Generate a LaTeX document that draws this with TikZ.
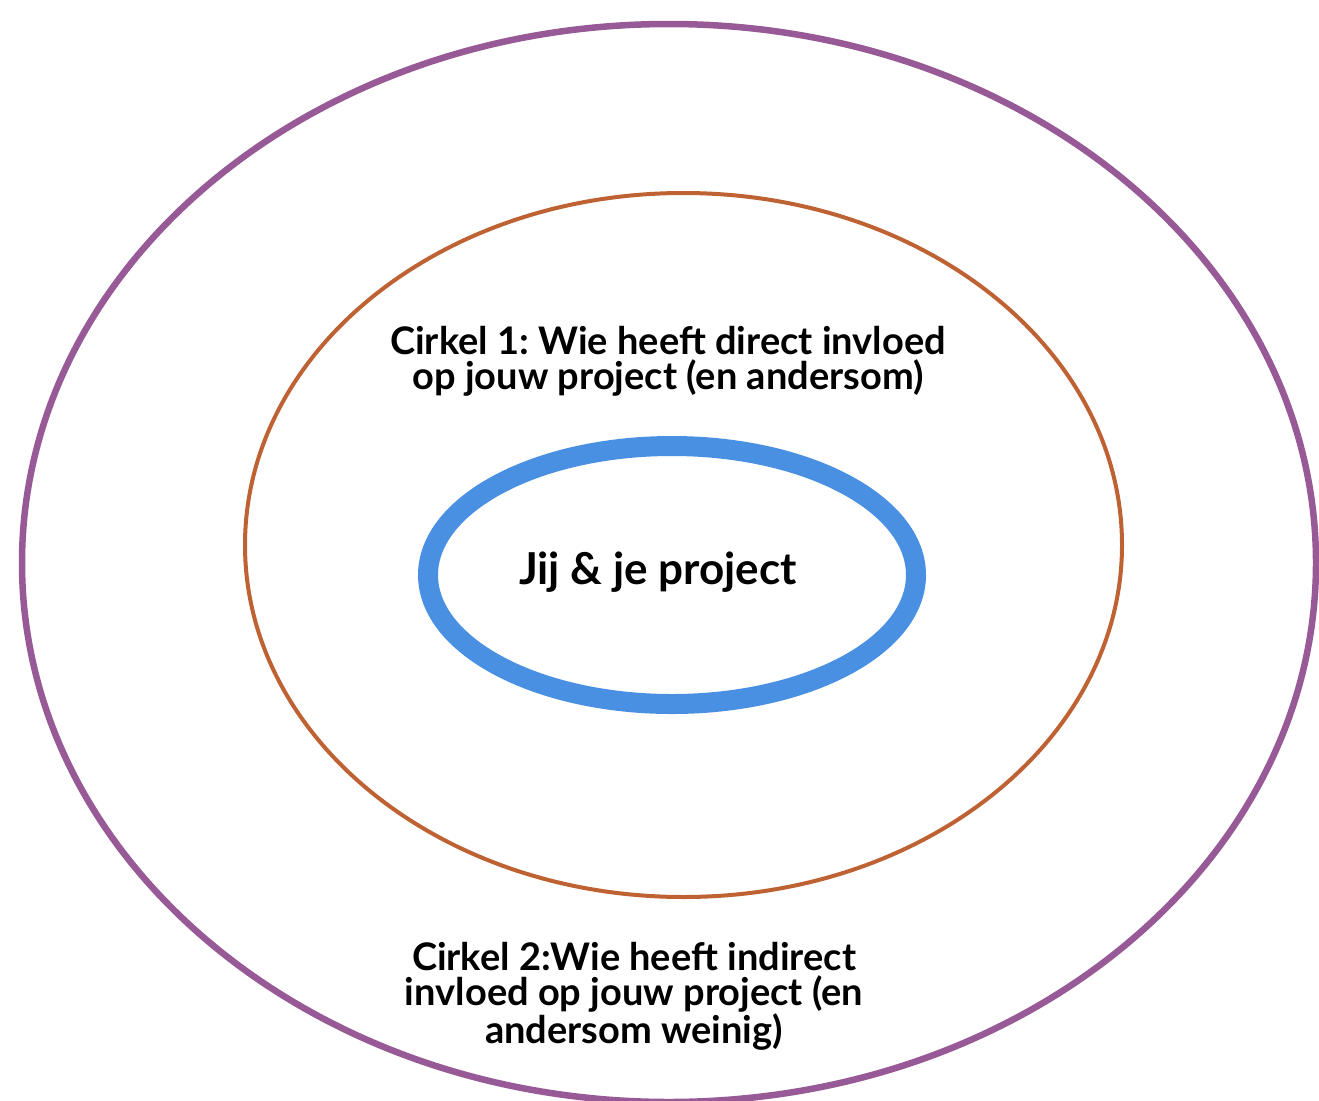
\documentclass[tikz,border=0pt]{standalone}
\usepackage{fontspec}
\setmainfont{Lato}
\frenchspacing
\definecolor{ringpurple}{RGB}{152,90,150}
\definecolor{ringorange}{RGB}{190,98,52}
\definecolor{ringblue}{RGB}{74,144,226}
\begin{document}
\begin{tikzpicture}[x=1pt,y=-1pt,
  ring/.style={draw, fill=none},
  label/.style={font=\bfseries\fontsize{38}{35}\selectfont, align=center, inner sep=0pt}]
  \useasboundingbox (0,0) rectangle (1319,1100);
  \clip (0,0) rectangle (1319,1100);
  \fill[white] (0,0) rectangle (1319,1100);
  % outer ring: indirect influence
  \draw[ring, ringpurple, line width=6.5pt] (669,563) ellipse [x radius=647, y radius=539];
  % middle ring: direct influence
  \draw[ring, ringorange, line width=4pt] (683.5,545) ellipse [x radius=438.5, y radius=352];
  % inner ring: you and your project
  \draw[ring, ringblue, line width=20pt] (672,575) ellipse [x radius=244, y radius=129];
  \node[label] (c1) at (668,361) {Cirkel 1: Wie heeft direct invloed\\op jouw project (en andersom)};
  \node[label] (c2) at (634,996) {Cirkel 2:Wie heeft indirect\\invloed op jouw project (en\\andersom weinig)};
  \node[font=\bfseries\fontsize{44}{46}\selectfont, inner sep=0pt] (me) at (658,572) {Jij \& je project};
\end{tikzpicture}
\end{document}
